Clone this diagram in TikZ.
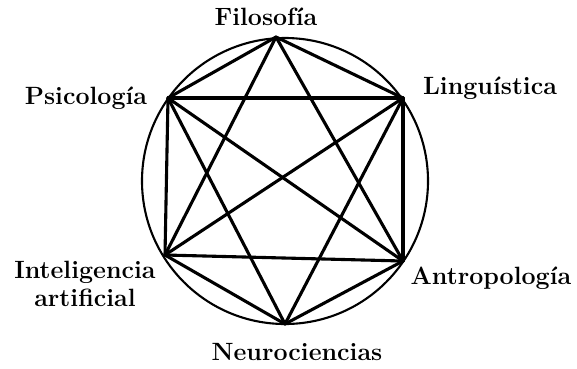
\documentclass[tikz,border=0pt]{standalone}
\usepackage{fontspec}
\usepackage{tikz}
\usetikzlibrary{positioning}

\tikzset{
    field/.style={font=\fontsize{25}{28}\selectfont\bfseries, align=center, inner sep=0pt},
    link/.style={line width=3.1pt, line cap=round, line join=round},
}

\begin{document}
\begin{tikzpicture}[x=1pt, y=-1pt]
    \useasboundingbox (0,0) rectangle (577,368);

    % corners of the hexagon
    \coordinate (Filosofia) at (276,37);
    \coordinate (Linguistica) at (403,98);
    \coordinate (Antropologia) at (403,261);
    \coordinate (Neurociencias) at (285,324);
    \coordinate (Inteligencia) at (165,255);
    \coordinate (Psicologia) at (168,98);

    \draw[line width=2.1pt] (285,181) circle (143pt);

    % the fields
    \node (FilosofiaText) [field] at (266,17) {Filosofía};
    \node (LinguisticaText) [field] at (490,88) {Linguística};
    \node (AntropologiaText) [field] at (491,278) {Antropología};
    \node (NeurocienciasText) [field] at (297,352) {Neurociencias};
    \node (InteligenciaText) [field] at (85,284) {Inteligencia\\artificial};
    \node (PsicologiaText) [field] at (86,98) {Psicología};

    % links between the fields
    \foreach \a/\b in {Filosofia/Linguistica, Linguistica/Antropologia, Antropologia/Neurociencias,
                       Neurociencias/Inteligencia, Inteligencia/Psicologia, Psicologia/Filosofia,
                       Filosofia/Antropologia, Filosofia/Inteligencia, Psicologia/Linguistica,
                       Inteligencia/Antropologia, Psicologia/Neurociencias, Linguistica/Neurociencias,
                       Psicologia/Antropologia, Linguistica/Inteligencia}
        \draw[link] (\a) -- (\b);
\end{tikzpicture}
\end{document}
